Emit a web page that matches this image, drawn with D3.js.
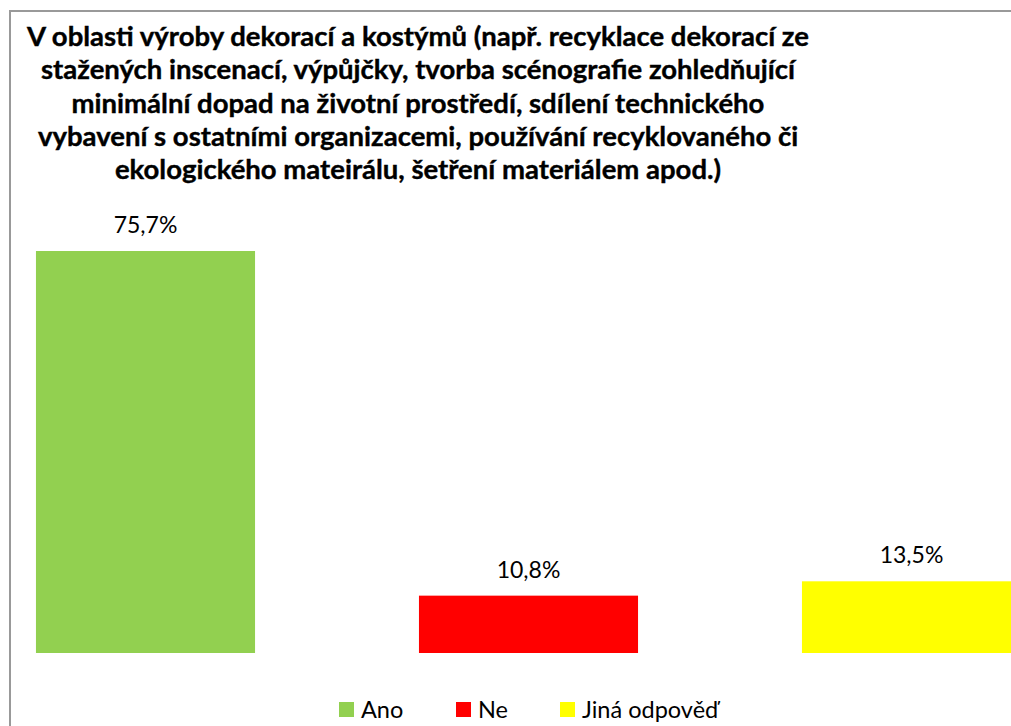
<!DOCTYPE html>
<html lang="cs">
<head>
<meta charset="UTF-8">
<script src="https://d3js.org/d3.v7.min.js"></script>
<style>
  body { margin: 0; background: #fff; }
  svg { display: block; }
  .title { font-family: Lato, "Open Sans", sans-serif; font-weight: bold; fill: #000; text-anchor: middle; }
  .label { font-family: Lato, "Open Sans", sans-serif; font-size: 23px; fill: #000; text-anchor: middle; }
  .legend text { font-family: Lato, "Open Sans", sans-serif; font-size: 23.5px; fill: #000; }
</style>
</head>
<body>
<svg width="1011" height="726"></svg>
<script>
// data
var categories = ["Ano", "Ne", "Jiná odpověď"];
var values = [75.7, 10.8, 13.5];
var colors = ["#92D050", "#FF0000", "#FFFF00"];
var titleLines = [
  "V oblasti výroby dekorací a kostýmů (např. recyklace dekorací ze",
  "stažených inscenací, výpůjčky, tvorba scénografie zohledňující",
  "minimální dopad na životní prostředí, sdílení technického",
  "vybavení s ostatními organizacemi, používání recyklovaného či",
  "ekologického mateirálu, šetření materiálem apod.)"
];

var svg = d3.select("svg");

// chart frame (right and bottom run off the picture)
svg.append("rect")
    .attr("x", 10).attr("y", 11)
    .attr("width", 1100).attr("height", 800)
    .attr("fill", "#fff")
    .attr("stroke", "#999")
    .attr("stroke-width", 2);

// title
var title = svg.append("g");
var tl = title.selectAll("text")
  .data(titleLines)
  .enter().append("text")
    .attr("class", "title")
    .attr("x", 418)
    .attr("y", function(d, i) { return 46 + i * 33.3; })
    .style("font-size", "24px")
    .style("stroke", "#000")
    .style("stroke-width", "0.4px")
    .text(function(d) { return d; });

// fit first line to its width in the picture
var w0 = tl.node().getComputedTextLength();
var fs = 24 * 782 / w0;
tl.style("font-size", fs + "px");

var x = d3.scaleBand()
    .domain(categories)
    .range([-46, 1103])
    .paddingInner(0.428)
    .paddingOuter(0.214);

var y = d3.scaleLinear()
    .domain([0, 75.7])
    .range([653, 251]);

var data = categories.map(function(c, i) { return {cat: c, val: values[i], col: colors[i]}; });

svg.selectAll(".bar")
  .data(data)
  .enter().append("rect")
    .attr("class", "bar")
    .attr("x", function(d) { return x(d.cat); })
    .attr("y", function(d) { return y(d.val); })
    .attr("width", x.bandwidth())
    .attr("height", function(d) { return y(0) - y(d.val); })
    .attr("fill", function(d) { return d.col; });

svg.selectAll(".label")
  .data(data)
  .enter().append("text")
    .attr("class", "label")
    .attr("x", function(d) { return x(d.cat) + x.bandwidth() / 2; })
    .attr("y", function(d) { return y(d.val) - 18; })
    .text(function(d) { return d3.format(".1f")(d.val).replace(".", ",") + "%"; });

// legend
var legendX = [339, 456, 560];
var legend = svg.append("g").attr("class", "legend");
var items = legend.selectAll("g")
  .data(data)
  .enter().append("g")
    .attr("transform", function(d, i) { return "translate(" + legendX[i] + ",702)"; });
items.append("rect")
    .attr("width", 15).attr("height", 15)
    .attr("fill", function(d) { return d.col; });
items.append("text")
    .attr("x", 22).attr("y", 16)
    .text(function(d) { return d.cat; });
</script>
</body>
</html>
